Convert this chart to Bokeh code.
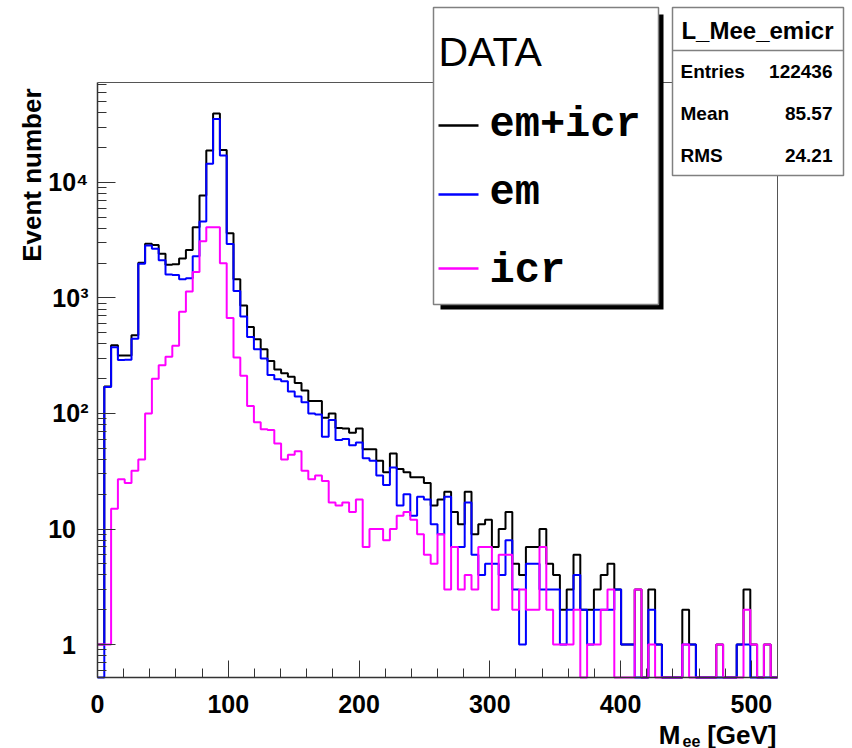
import numpy as np
from bokeh.plotting import figure
from bokeh.models import Range1d, LogTicker, SingleIntervalTicker, Label, BoxAnnotation
from bokeh.embed import file_html
from bokeh.resources import INLINE

# ---------------- data ----------------
hist_name = "L_Mee_emicr"
x_min, x_max, n_bins = 0.0, 520.0, 100

em_icr = [1, 171, 390, 318, 318, 475, 2020, 2950, 2870, 2410,
          1940, 1960, 2200, 2600, 4100, 7700, 18900, 39600, 19100, 3640,
          1450, 860, 560, 440, 360, 285, 240, 223, 208, 184,
          158, 128, 128, 92, 100, 75, 74, 68, 74, 49,
          49, 39, 31, 45, 33, 31, 28, 28, 25, 16,
          18, 21, 14, 11, 21, 9, 11, 12, 7, 10,
          14, 5, 4, 7, 7, 10, 5, 4, 2, 3,
          6, 2, 2, 3, 4, 5, 3, 1, 1, 3,
          0, 3, 1, 0, 0, 0, 2, 1, 0, 0,
          0, 1, 0, 0, 1, 3, 1, 0, 1, 0]

em = [0, 170, 375, 290, 292, 443, 1980, 2850, 2670, 2120,
      1600, 1580, 1450, 1480, 2300, 4600, 14500, 35500, 17100, 2940,
      1150, 690, 460, 360, 300, 215, 198, 190, 155, 140,
      125, 100, 98, 63, 88, 59, 60, 53, 56, 41,
      39, 29, 24, 34, 16, 20, 13, 19, 18, 11,
      9, 19, 7, 7, 17, 6, 4, 5, 5, 4,
      8, 3, 1, 5, 5, 3, 3, 3, 1, 2,
      4, 2, 1, 2, 2, 2, 3, 1, 1, 0,
      0, 2, 1, 0, 0, 0, 1, 1, 0, 0,
      0, 0, 0, 0, 1, 1, 0, 0, 0, 0]

icr = [1, 1, 15, 27, 25, 32, 40, 100, 200, 262,
       310, 385, 760, 1140, 1680, 3100, 4100, 4100, 2000, 670,
       305, 212, 116, 84, 73, 72, 55, 40, 44, 47,
       32, 27, 29, 26, 17, 16, 17, 14, 18, 7,
       10, 10, 8, 10, 13, 14, 12, 9, 6, 5,
       9, 3, 7, 3, 4, 3, 7, 7, 2, 6,
       6, 2, 3, 2, 2, 7, 2, 1, 1, 1,
       2, 0, 1, 1, 2, 3, 0, 0, 0, 3,
       0, 1, 0, 0, 0, 0, 1, 0, 0, 0,
       0, 1, 0, 0, 0, 2, 1, 0, 1, 0]

series_names = ["em+icr", "em", "icr"]
series_colors = ["#000000", "#0000ff", "#ff00ff"]
x_tick_step = 100
y_tick_values = [1, 10, 100, 1000, 10000]
y_tick_labels = ["1\u2002", "10\u2002", "10\u00b2", "10\u00b3", "10\u2074"]
stat_names = ["Entries", "Mean", "RMS"]
stat_values = ["122436", "85.57", "24.21"]
y_title = "Event number"

# ---------------- layout ----------------
W, H = 852, 748
FL, FR, FT, FB = 97, 777, 82, 677      # ROOT frame edges in canvas pixels
Y_LO, Y_TOP = 0.518, 73400.0           # y values at the ROOT frame bottom / top
SANS = "Liberation Sans"
MONO = "Liberation Mono"

# The Bokeh frame covers the whole canvas; the axes are pinned at the ROOT
# frame edges with fixed_location, so every box and text can sit anywhere.
px_per_x = (FR - FL) / (x_max - x_min)
px_per_dec = (FB - FT) / (np.log10(Y_TOP) - np.log10(Y_LO))
x_start = x_min - FL / px_per_x
x_end = x_min + (W - FL) / px_per_x
y_start = 10 ** (np.log10(Y_LO) - (H - FB) / px_per_dec)
y_end = 10 ** (np.log10(Y_LO) + FB / px_per_dec)


def sx(X):
    return X


def sy(Y):
    return H - Y


p = figure(width=W, height=H, title=None, output_backend="svg", toolbar_location=None,
           x_range=Range1d(x_start, x_end), y_range=Range1d(y_start, y_end),
           y_axis_type="log",
           min_border_left=0, min_border_right=0, min_border_top=0, min_border_bottom=0)
p.background_fill_color = "white"
p.border_fill_color = "white"
p.outline_line_color = None
p.xgrid.visible = False
p.ygrid.visible = False

# x axis
xa = p.xaxis[0]
xa.fixed_location = Y_LO
xa.bounds = (x_min, x_max)
xa.ticker = SingleIntervalTicker(interval=x_tick_step, num_minor_ticks=5)
xa.major_tick_in = 17
xa.major_tick_out = 0
xa.minor_tick_in = 9
xa.minor_tick_out = 0
xa.axis_line_color = "#333333"
xa.axis_line_width = 1.5
xa.major_tick_line_color = "#333333"
xa.minor_tick_line_color = "#333333"
xa.major_label_text_font = SANS
xa.major_label_text_font_style = "bold"
xa.major_label_text_font_size = "25px"
xa.major_label_text_color = "black"
xa.major_label_standoff = 17

# y axis
ya = p.yaxis[0]
ya.fixed_location = x_min
ya.bounds = (Y_LO, Y_TOP)
ya.ticker = LogTicker(num_minor_ticks=10)
ya.major_tick_in = 18
ya.major_tick_out = 0
ya.minor_tick_in = 9
ya.minor_tick_out = 0
ya.axis_line_color = "#333333"
ya.axis_line_width = 1.5
ya.major_tick_line_color = "#333333"
ya.minor_tick_line_color = "#333333"
ya.major_label_text_font = SANS
ya.major_label_text_font_style = "bold"
ya.major_label_text_font_size = "25px"
ya.major_label_text_color = "black"
ya.major_label_standoff = 9
ya.major_label_overrides = {float(v): t for v, t in zip(y_tick_values, y_tick_labels)}

# histograms
edges = np.linspace(x_min, x_max, n_bins + 1)


def step_y(vals):
    v = np.asarray(vals, dtype=float)
    v = np.where(v > 0, v, Y_LO)   # empty bins are drawn on the frame bottom, as in ROOT
    return np.append(v, v[-1])


for vals, col in zip([em_icr, em, icr], series_colors):
    p.step(edges, step_y(vals), mode="after", line_color=col, line_width=2)


def box(l, r, t, b, fill, line=None, lw=1.0):
    return BoxAnnotation(left=sx(l), right=sx(r), top=sy(t), bottom=sy(b),
                         left_units="screen", right_units="screen",
                         top_units="screen", bottom_units="screen",
                         fill_color=fill, fill_alpha=1.0,
                         line_color=line, line_width=lw, line_alpha=1.0)


def text(X, Ymid, s, size, bold=True, align="left", font=SANS, angle=0.0):
    # Ymid: vertical centre of the text line, in canvas pixels from the top
    return Label(x=sx(X), y=sy(Ymid), x_units="screen", y_units="screen", text=s,
                 text_font=font, text_font_style="bold" if bold else "normal",
                 text_font_size=size, text_color="black", text_align=align,
                 text_baseline="middle", angle=angle)


# top and right edges of the ROOT frame
p.add_layout(box(FL, FR + 0.5, FT - 0.5, FT + 0.5, "#555555"))
p.add_layout(box(FR - 0.5, FR + 0.5, FT - 0.5, FB, "#555555"))

# axis titles
p.add_layout(text(31, 88, y_title, "26px", align="right", angle=np.pi / 2))
p.add_layout(text(680, 734, "M", "26px", align="right"))
p.add_layout(text(682, 740, "ee", "16px", align="left"))
p.add_layout(text(776, 734, "[GeV]", "26px", align="right"))

# legend box with shadow
p.add_layout(box(440, 663, 14, 309, "black"))
p.add_layout(box(433, 658, 7, 304, "white", "#808080", 1.5))
p.add_layout(text(438, 51, "DATA", "41px", bold=False))
leg_line_y = [125, 194, 268]
leg_text_y = [124, 192, 270]
for name, col, ly, ty in zip(series_names, series_colors, leg_line_y, leg_text_y):
    p.add_layout(box(438, 478, ly - 1.2, ly + 1.2, col))
    p.add_layout(text(489, ty, name, "42px", font=MONO))

# stats box
p.add_layout(box(672, 843, 7, 175, "white", "#808080", 1.5))
p.add_layout(box(672, 843, 49.3, 50.7, "#808080"))
p.add_layout(text(757, 30, hist_name, "24px", align="center"))
stat_y = [71, 113, 155]
for nm, val, yy in zip(stat_names, stat_values, stat_y):
    p.add_layout(text(680, yy, nm, "19px"))
    p.add_layout(text(832, yy, val, "19px", align="right"))

open("out.html", "w").write(file_html(p, INLINE))
